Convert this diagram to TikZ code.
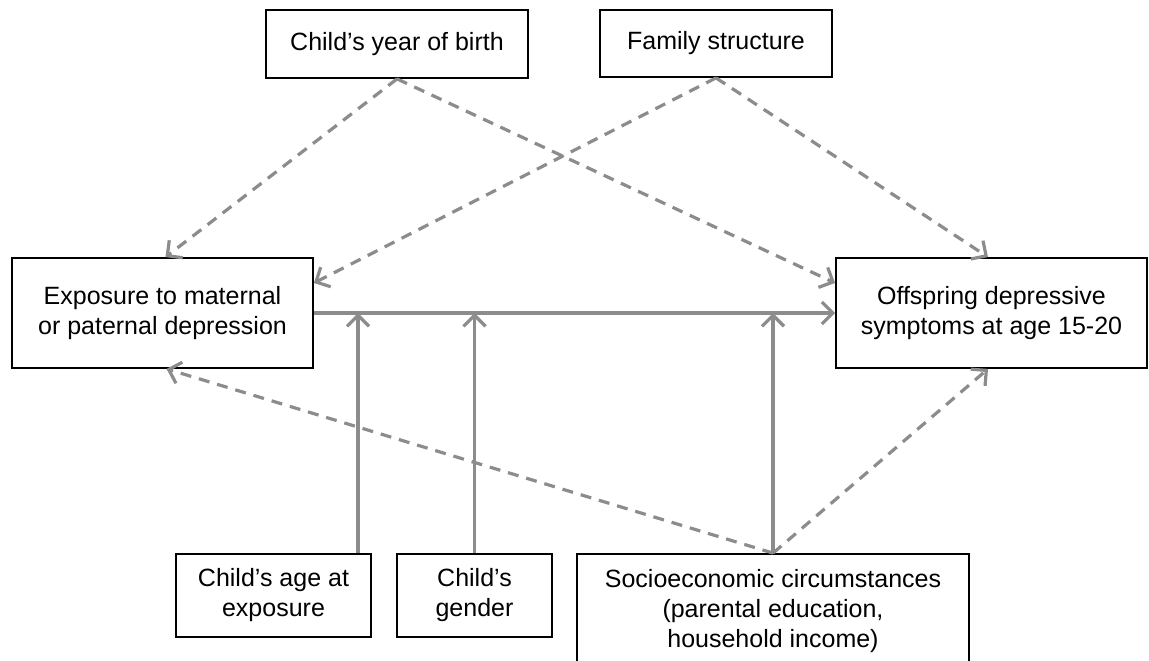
\documentclass[tikz,border=0pt]{standalone}
\usepackage{fontspec}
\setmainfont{Liberation Sans}
\usetikzlibrary{arrows.meta}
\definecolor{arr}{RGB}{140,140,140}
\tikzset{
  box/.style={draw=black, line width=1.8pt, fill=white, align=center, inner sep=0pt,
    font=\fontsize{25}{30}\selectfont},
  link/.style={draw=arr, line width=3.2pt, -{Straight Barb[length=11pt,width=22pt]}},
  dlink/.style={link, dash pattern=on 11pt off 8pt},
}
\begin{document}
\begin{tikzpicture}[x=1pt,y=-1pt]
\useasboundingbox (0,0) rectangle (1149,661);
\clip (0,0) rectangle (1149,661);
\node[box, minimum width=262pt, minimum height=68pt] (yob) at (397,44) {Child’s year of birth};
\node[box, minimum width=232pt, minimum height=67pt] (fam) at (716,43.5) {Family structure};
\node[box, minimum width=301pt, minimum height=110pt] (exp) at (162.5,313) {Exposure to maternal\\or paternal depression};
\node[box, minimum width=311pt, minimum height=110pt] (off) at (991.5,313) {Offspring depressive\\symptoms at age 15-20};
\node[box, minimum width=195pt, minimum height=83pt] (age) at (273.5,595.5) {Child’s age at\\exposure};
\node[box, minimum width=155pt, minimum height=83pt] (gen) at (474.5,595.5) {Child’s\\gender};
\node[box, minimum width=392pt, minimum height=114pt] (soc) at (773,611) {Socioeconomic circumstances\\(parental education,\\household income)};
% helper coordinates
\coordinate (ageT) at ([xshift=84.5pt]age.north);
\coordinate (expN) at ([xshift=3pt]exp.north);
\coordinate (expS) at ([xshift=4pt]exp.south);
\coordinate (expE) at ([yshift=30pt]exp.east);
\coordinate (offW) at ([yshift=30pt]off.west);
\coordinate (offN) at ([xshift=-3.5pt]off.north);
\coordinate (offS) at ([xshift=-3.5pt]off.south);
% dashed confounder arrows
\draw[dlink] (yob.south) -- (expN);
\draw[dlink] (yob.south) -- (offW);
\draw[dlink] (fam.south) -- (expE);
\draw[dlink] (fam.south) -- (offN);
\draw[dlink] (soc.north) -- (expS);
\draw[dlink] (soc.north) -- (offS);
% main effect and moderators
\draw[link] (exp.east) -- (off.west);
\draw[link] (ageT) -- (ageT |- exp.east);
\draw[link] (gen.north) -- (gen.north |- exp.east);
\draw[link] (soc.north) -- (soc.north |- exp.east);
\end{tikzpicture}
\end{document}
